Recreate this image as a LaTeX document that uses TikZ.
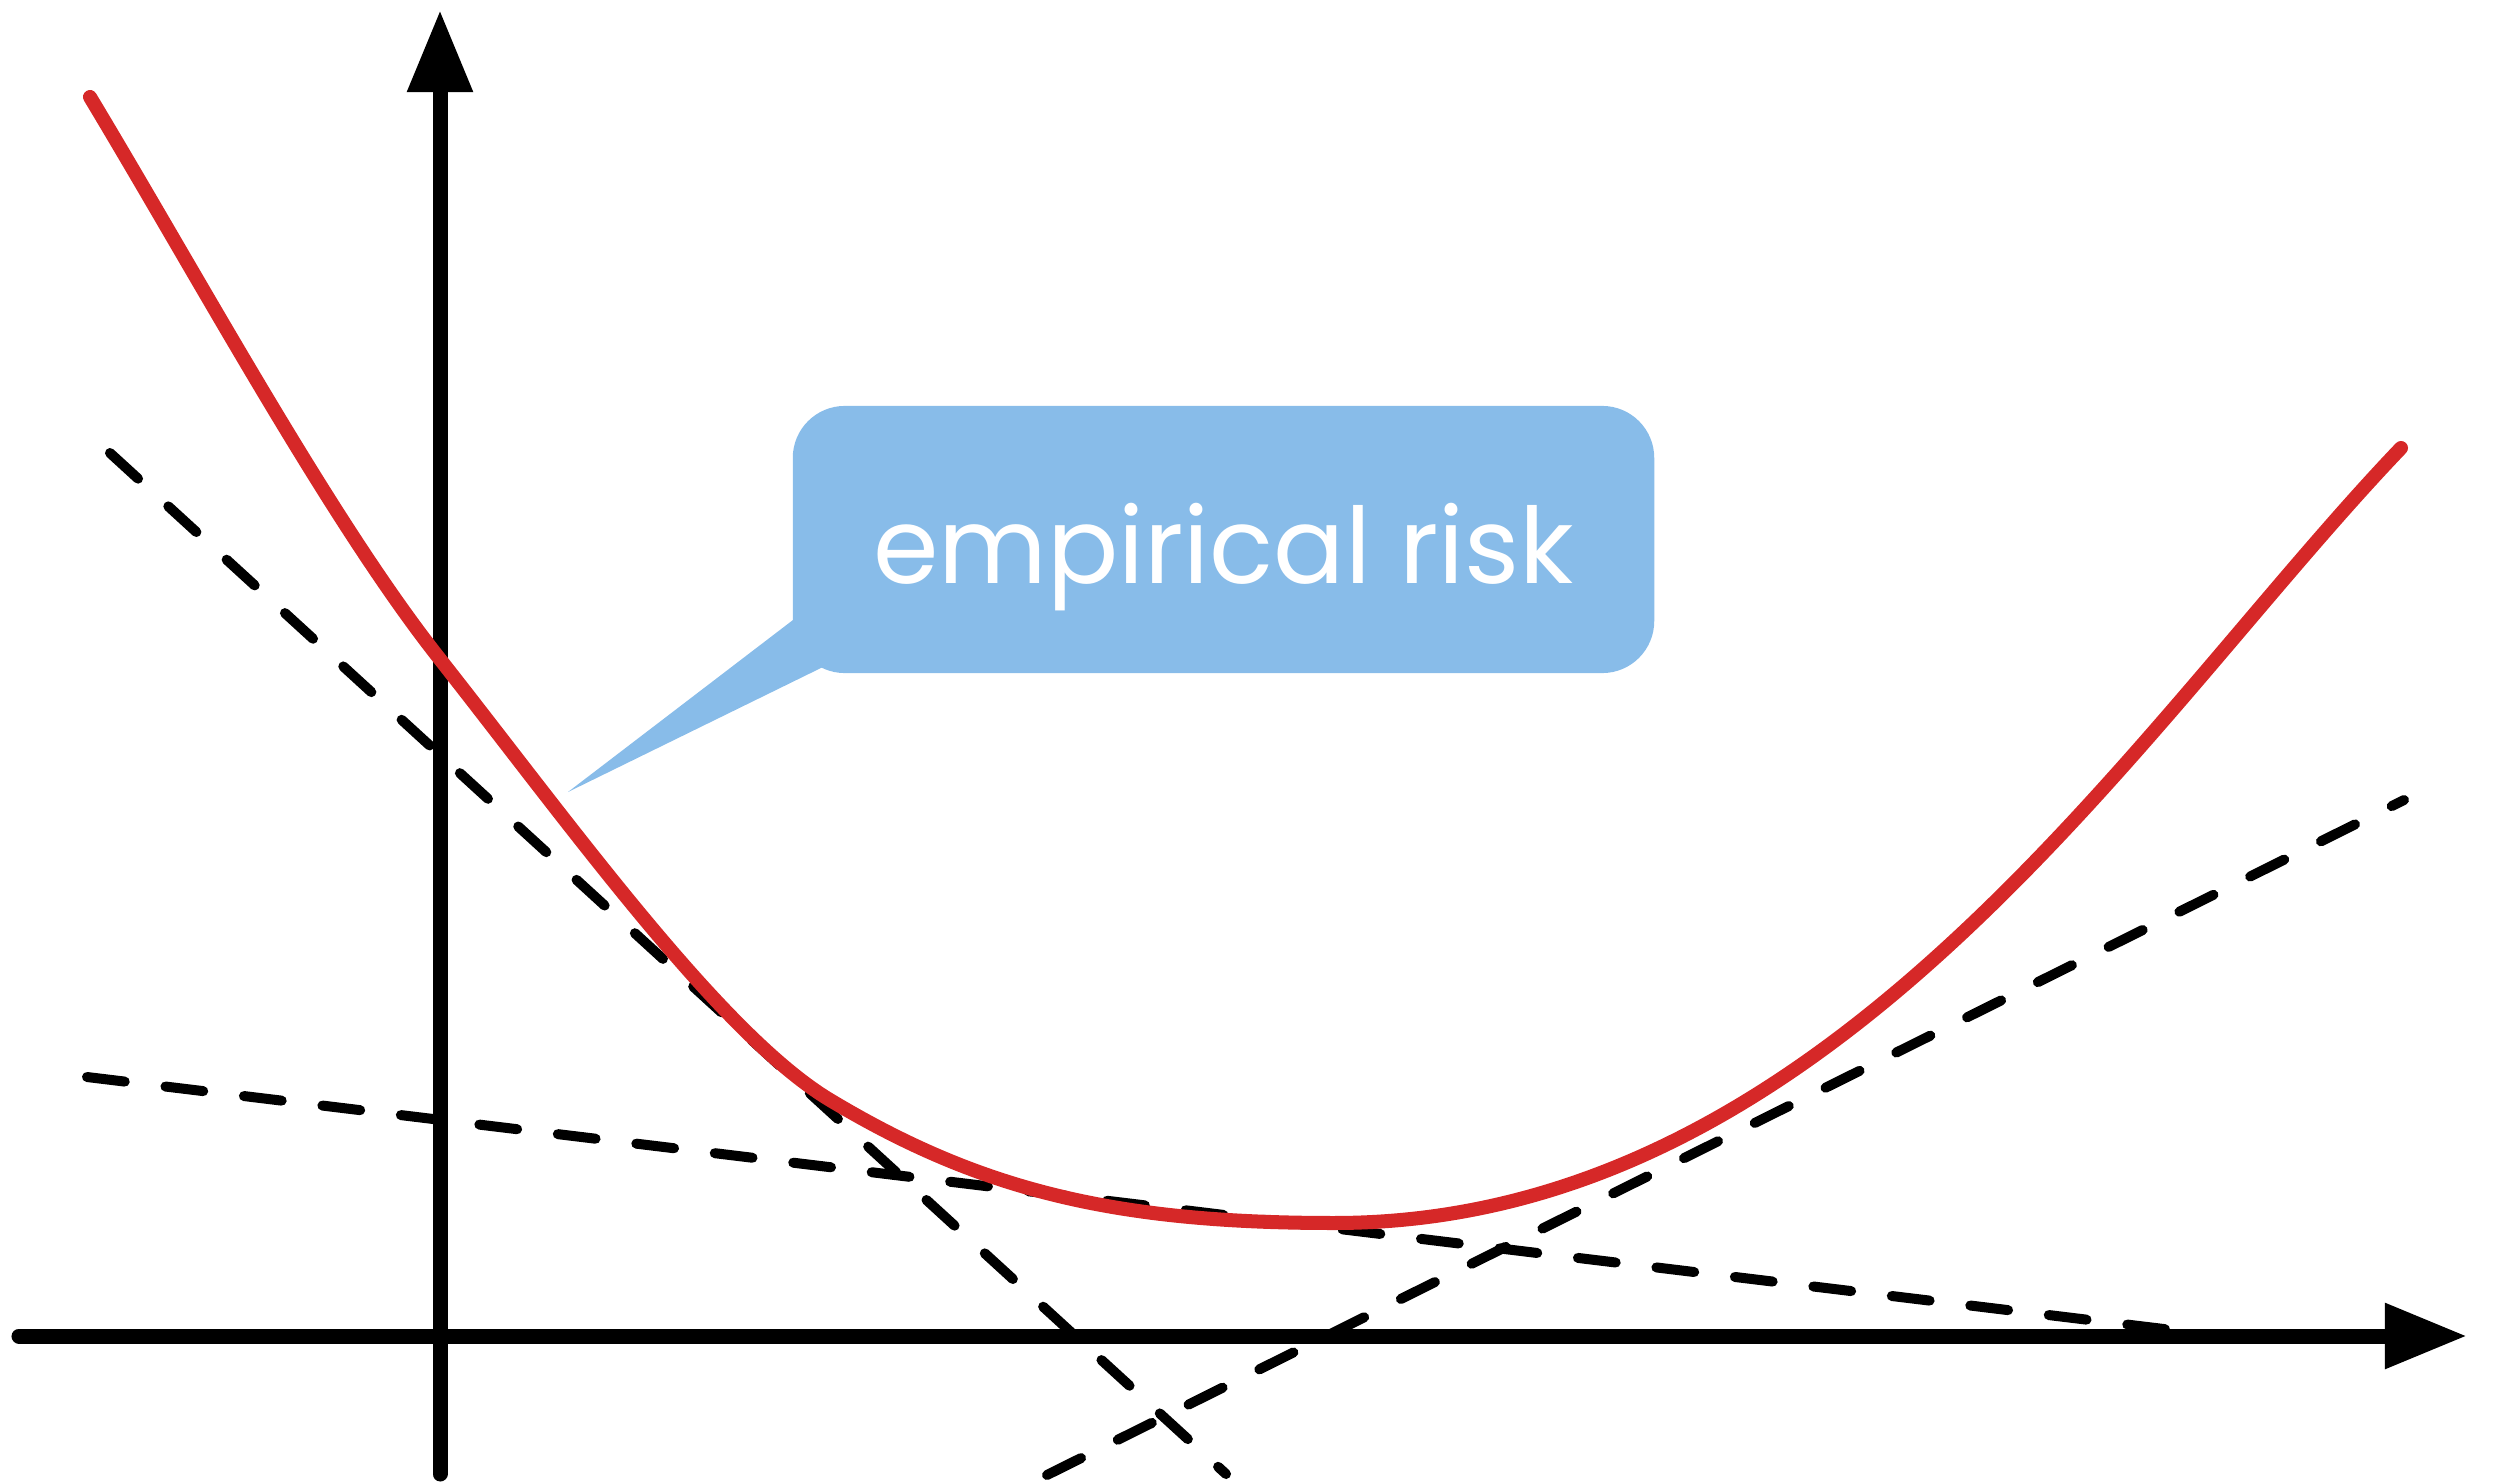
\documentclass[tikz,border=0pt]{standalone}
\usepackage{fontspec}
\setmainfont{Poppins}
\usepackage{xcolor}
\usetikzlibrary{arrows.meta, positioning}

\definecolor{riskred}{RGB}{214,40,40}
\definecolor{callblue}{RGB}{136,188,233}

\begin{document}
\begin{tikzpicture}[
  x=0.01cm, y=-0.01cm,
  axis/.style={line width=0.15cm, line cap=round, -{Triangle[length=0.82cm, width=0.62cm]}},
  bound/.style={line width=0.10cm, line cap=round, dash pattern=on 0.38cm off 0.41cm},
  risk/.style={line width=0.14cm, line cap=round, line join=round, draw=riskred},
  bubble/.style={fill=callblue, rounded corners=0.52cm, minimum width=8.61cm, minimum height=2.67cm,
    inner sep=0pt, text height=1.0cm, text depth=0.13cm, text=white, font=\fontsize{30}{36}\selectfont},
]
\useasboundingbox (0,0) rectangle (2493,1482);

% Axis end points
\coordinate (xl) at (19,1336);
\coordinate (xr) at (2467,1336);
\coordinate (yb) at (440,1474);
\coordinate (yt) at (440,10);

% Dashed lines end points
\coordinate (a1) at (110,453);
\coordinate (a2) at (1226,1474);
\coordinate (b1) at (87,1077);
\coordinate (b2) at (2172,1330);
\coordinate (c1) at (1047,1475);
\coordinate (c2) at (2404,800);

% Dashed lines
\draw[bound] (a1) -- (a2);
\draw[bound] (b1) -- (b2);
\draw[bound] (c1) -- (c2);

% Axes
\draw[axis] (yb) -- (yt);
\draw[axis] (xl) -- (xr);

% Empirical risk curve
\coordinate (r0) at (90,97);
\coordinate (r1) at (439,658);
\coordinate (r2) at (830,1100);
\coordinate (rmin) at (1334,1223);
\coordinate (r4) at (2401,448);
\draw[risk] (r0) .. controls (200,280) and (330,520) .. (r1)
  .. controls (569,823) and (720,1034) .. (r2)
  .. controls (980,1190) and (1114,1223) .. (rmin)
  .. controls (1834,1223) and (2141,720) .. (r4);

% Callout
\node[bubble] (callout) at (1223.5,539.5) {empirical risk};
\coordinate (tip) at (568,792);
\fill[callblue] (793,620) -- (tip) -- (823,667) -- (860,610) -- cycle;
\end{tikzpicture}
\end{document}
